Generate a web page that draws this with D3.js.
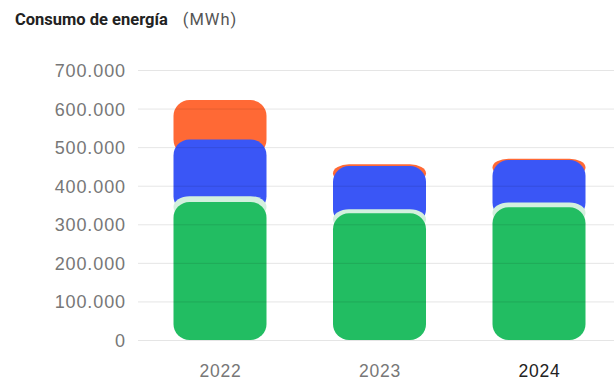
<!DOCTYPE html>
<html>
<head>
<meta charset="utf-8">
<script src="https://cdn.jsdelivr.net/npm/d3@7"></script>
<style>
  body { margin: 0; background: #fff; }
  svg { display: block; font-family: Roboto, "Noto Sans", sans-serif; }
</style>
</head>
<body>
<svg id="chart" width="614" height="381"></svg>
<script>
// data (MWh)
const years = ["2022", "2023", "2024"];
const greenValues = [358000, 328500, 344000];
const paleValues = [15000, 10500, 12500];
const blueValues = [147000, 112000, 110000];
const orangeValues = [102000, 4500, 3500];
const yTicks = [0, 100000, 200000, 300000, 400000, 500000, 600000, 700000];

const keys = ["green", "pale", "blue", "orange"];
const colors = { green: "#22bd62", pale: "#d3f0de", blue: "#3a56f6", orange: "#ff6935" };

const rows = years.map((yr, i) => ({
  year: yr,
  green: greenValues[i],
  pale: paleValues[i],
  blue: blueValues[i],
  orange: orangeValues[i]
}));

const width = 614, height = 381;
const radius = 16, barWidth = 93;

const svg = d3.select("#chart");

const x = d3.scalePoint().domain(years).range([220, 539]);
const y = d3.scaleLinear().domain([0, 700000]).range([340, 70]);

const fmt = d3.formatLocale({ decimal: ",", thousands: ".", grouping: [3], currency: ["", " €"] }).format(",");

const series = d3.stack().keys(keys)(rows);

// title
const title = svg.append("text").attr("x", 15).attr("y", 25).style("font-size", "16.5px");
title.append("tspan").attr("font-weight", 700).attr("fill", "#222").text("Consumo de energía");
title.append("tspan").attr("dx", 15).attr("fill", "#555").style("letter-spacing", "1px").text("(MWh)");

// bars: top series first, each one reaches a bit under the next so the rounded corners overlap
const bars = svg.append("g");
series.slice().reverse().forEach((s) => {
  bars.selectAll(null)
    .data(s)
    .enter()
    .append("rect")
    .attr("x", (d) => x(d.data.year) - barWidth / 2)
    .attr("y", (d) => y(d[1]))
    .attr("width", barWidth)
    .attr("height", (d) => y(d[0]) - y(d[1]) + (s.index === 0 ? 0 : radius))
    .attr("rx", radius)
    .attr("ry", radius)
    .attr("fill", colors[s.key]);
});

// y axis + grid (on top, faint)
const yAxis = svg.append("g")
  .attr("transform", "translate(138,0)")
  .call(d3.axisLeft(y).tickValues(yTicks).tickFormat(fmt).tickSize(-(width - 138)).tickPadding(12));
yAxis.select(".domain").remove();
yAxis.selectAll(".tick line").attr("stroke", "rgba(0,0,0,0.1)");
yAxis.selectAll(".tick text")
  .attr("fill", "#777")
  .style("font-size", "18px")
  .style("letter-spacing", "0.9px")
  .attr("dy", "0.36em");

// x axis
const xAxis = svg.append("g")
  .attr("transform", "translate(0,340)")
  .call(d3.axisBottom(x).tickSize(0).tickPadding(0));
xAxis.select(".domain").remove();
xAxis.selectAll(".tick text")
  .attr("y", 37)
  .attr("dy", 0)
  .attr("fill", (d) => (d === "2024" ? "#222" : "#777"))
  .attr("font-weight", (d) => (d === "2024" ? 500 : 400))
  .style("font-size", "17.5px")
  .style("letter-spacing", "0.8px");
</script>
</body>
</html>
